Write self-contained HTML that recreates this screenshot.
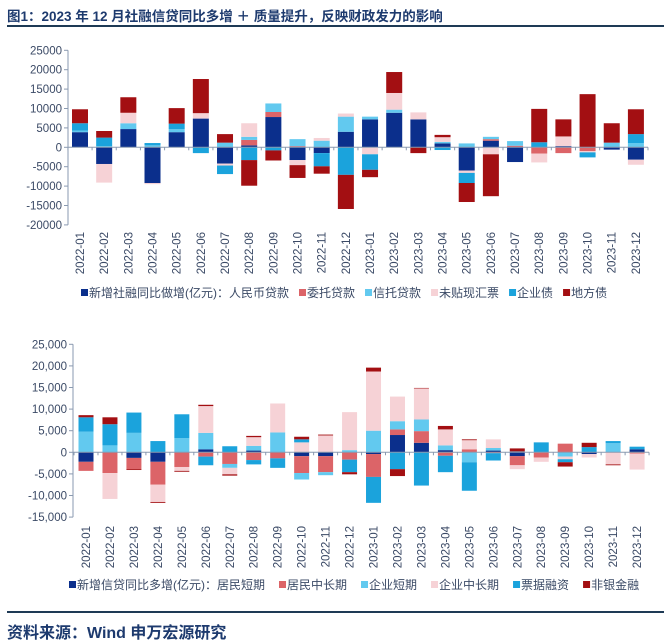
<!DOCTYPE html>
<html><head><meta charset="utf-8">
<style>
html,body{margin:0;padding:0;background:#fff;}
body{width:664px;height:643px;position:relative;overflow:hidden;font-family:"Liberation Sans","Noto Sans CJK SC",sans-serif;}
.title{position:absolute;left:7px;top:5px;font-size:13.5px;font-weight:bold;color:#1d3a6e;white-space:nowrap;}
.rule{position:absolute;left:7px;right:0;height:2px;background:#1e3a55;}
.src{position:absolute;left:7px;top:619px;font-size:16px;font-weight:bold;color:#1d3a6e;white-space:nowrap;}
svg{position:absolute;left:0;top:0;}
</style></head><body>
<div class="title">图1：2023 年 12 月社融信贷同比多增 ＋ 质量提升，反映财政发力的影响</div>
<div class="rule" style="top:25px"></div>
<div class="rule" style="top:611px"></div>
<div class="src">资料来源：Wind 申万宏源研究</div>
<svg id="chart" width="664" height="643"></svg>
<script>
const categories = ["2022-01","2022-02","2022-03","2022-04","2022-05","2022-06","2022-07","2022-08","2022-09","2022-10","2022-11","2022-12","2023-01","2023-02","2023-03","2023-04","2023-05","2023-06","2023-07","2023-08","2023-09","2023-10","2023-11","2023-12"];
// Top chart: social financing YoY increase (100m yuan)
const tsfNames = ["新增社融同比做增(亿元)：人民币贷款","委托贷款","信托贷款","未贴现汇票","企业债","地方债"];
const tsfRmb   = [3900,-4300,4700,-9200,3900,7400,-4200,500,7800,-3300,-1500,4000,7200,8900,7200,1000,-6000,1700,-3800,0,300,0,-600,-3200];
const tsfWt    = [0,0,0,0,0,0,0,1400,1300,300,0,0,0,0,0,0,0,400,400,-1600,-1500,-1000,0,0];
const tsfXt    = [400,300,1500,500,800,0,1200,800,2200,1800,1700,3900,700,800,0,400,1000,600,1200,0,0,0,1200,1100];
const tsfPj    = [0,-4800,2700,-300,0,1400,-500,3500,0,-1300,700,800,-1800,4300,1800,1200,-600,-1800,0,-2300,2500,-300,0,-1300];
const tsfQyz   = [1900,2200,0,600,1400,-1500,-2200,-3300,-800,0,-3400,-7100,-4000,0,0,-700,-2600,0,0,1300,0,-1300,0,2300];
const tsfDfz   = [3600,1700,4000,0,4000,8800,2200,-6600,-2600,-3300,-1900,-8800,-1900,5400,-1500,600,-4900,-10800,0,8600,4400,13700,5000,6400];
const tsfTicks = [25000,20000,15000,10000,5000,0,-5000,-10000,-15000,-20000];
// Bottom chart: new loans YoY increase
const loanNames = ["新增信贷同比多增(亿元)：居民短期","居民中长期","企业短期","企业中长期","票据融资","非银金融"];
const loanJmdq = [-2200,0,-1300,-2200,0,700,0,400,0,-900,-900,0,-400,4000,2200,500,0,400,-900,0,0,-400,0,700];
const loanJmzc = [-2100,-4800,-2600,-5300,-3400,-1000,-2700,-1800,-1400,-3900,-3700,-1700,-5300,1300,2700,-800,700,-200,-2100,-1200,2000,0,0,-300];
const loanQydq = [4800,1600,4500,0,3300,3800,-900,1100,4600,-1500,-700,500,5000,1900,2700,1100,-2300,600,200,0,-1000,0,2100,0];
const loanQyzc = [0,-6000,0,-4000,-900,6200,-1500,2000,6700,2300,3900,8800,13700,5700,7200,3700,2100,2000,-900,-1000,-600,-800,-2800,-3700];
const loanPjrz = [3300,4900,4700,2600,5500,-2000,1400,-1000,-2200,700,0,-2900,-6000,-3900,-7700,-3800,-6600,-1700,0,2300,-700,1200,500,600];
const loanFy   = [500,1600,-200,-200,-200,300,-300,300,0,600,200,-500,900,-1600,100,800,200,0,700,0,-1000,1000,-200,0];
const loanTicks = [25000,20000,15000,10000,5000,0,-5000,-10000,-15000];
const loanTickLabels = ["25,000","20,000","15,000","10,000","5,000","0","-5,000","-10,000","-15,000"];
const colors = ["#0b2f8c","#dc6468","#62c9ef","#f6d2d6","#1ba3dc","#a30f12"];

const NS="http://www.w3.org/2000/svg";
const svg=document.getElementById('chart');
function mk(tag,attrs,parent){const e=document.createElementNS(NS,tag);for(const k in attrs)e.setAttribute(k,attrs[k]);(parent||svg).appendChild(e);return e;}

function drawChart(cfg){
  const g=mk('g',{});
  
  
  const yScale=v=>cfg.y0-(v/1000)*cfg.pxPerK;
  const xScale=i=>cfg.x0+i*cfg.step;
  const ya=mk('line',{x1:cfg.axisX,x2:cfg.axisX,y1:yScale(cfg.ticks[0]),y2:yScale(cfg.ticks[cfg.ticks.length-1]),stroke:'#8a9ab0','stroke-width':1},g);
  
  
  cfg.ticks.forEach((t,i)=>{
    mk('line',{x1:cfg.axisX-4,x2:cfg.axisX,y1:yScale(t),y2:yScale(t),stroke:'#8a9ab0'},g);
    const tx=mk('text',{x:cfg.axisX-6,y:yScale(t)+4,'text-anchor':'end','font-size':11.5,fill:'#3b4a66'},g);
    tx.textContent=cfg.tickLabels?cfg.tickLabels[i]:String(t);
    
    
  });
  categories.forEach((c,i)=>{
    let pos=0,neg=0;
    cfg.series.forEach((s,k)=>{
      const v=s[i]; if(!v) return;
      let a,b;
      if(v>0){a=pos;b=pos+v;pos=b;}else{a=neg;b=neg+v;neg=b;}
      const y1=yScale(Math.max(a,b)),y2=yScale(Math.min(a,b));
      const r=mk('rect',{x:xScale(i)-cfg.bw/2,y:y1,width:cfg.bw,height:Math.max(0.5,y2-y1),fill:colors[k]},g);
      
      
    });
    const lx=xScale(i)+4, ly=cfg.labelY;
    const t=mk('text',{x:lx,y:ly,transform:`rotate(-90 ${lx} ${ly})`,'text-anchor':'end','font-size':11.5,fill:'#3b4a66'},g);
    t.textContent=c;
    
    
  });
  const xa=mk('line',{x1:cfg.axisX,x2:cfg.x0+23*cfg.step+cfg.step/2,y1:yScale(0),y2:yScale(0),stroke:'#8a9ab0','stroke-width':1},g);
  
  
  for(let i=0;i<=24;i++){const xx=cfg.x0+(i-0.5)*cfg.step;mk('line',{x1:xx,x2:xx,y1:yScale(0),y2:yScale(0)+3,stroke:'#8a9ab0'},g);}
  let lx=cfg.legendX;
  cfg.names.forEach((n,k)=>{
    const r=mk('rect',{x:lx,y:cfg.legendY-8,width:7,height:7,fill:colors[k]},g);
    
    
    const t=mk('text',{x:lx+8,y:cfg.legendY,'font-size':12,fill:'#3b4a66'},g);
    t.textContent=n;
    
    
    lx+=8+t.getComputedTextLength()+cfg.legendGap;
  });
}
drawChart({name:'tsf-chart',y0:147.3,pxPerK:3.88,axisX:68,x0:80,step:24.17,bw:16,ticks:tsfTicks,labelY:232,
  series:[tsfRmb,tsfWt,tsfXt,tsfPj,tsfQyz,tsfDfz],names:tsfNames,legendX:81,legendY:297,legendGap:10});
drawChart({name:'loan-chart',y0:452.3,pxPerK:4.32,axisX:73,x0:86,step:23.96,bw:15,ticks:loanTicks,tickLabels:loanTickLabels,labelY:526,
  series:[loanJmdq,loanJmzc,loanQydq,loanQyzc,loanPjrz,loanFy],names:loanNames,legendX:69,legendY:589,legendGap:14});
</script>
</body></html>
